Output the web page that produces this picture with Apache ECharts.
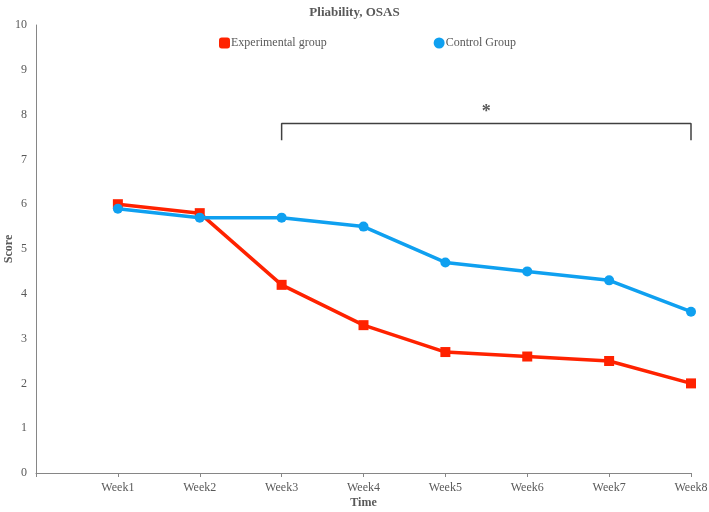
<!DOCTYPE html>
<html><head><meta charset="utf-8">
<script src="https://cdn.jsdelivr.net/npm/echarts@6/dist/echarts.min.js"></script>
<style>html,body{margin:0;padding:0;background:#fff}#c{width:709px;height:512px}</style>
</head><body><div id="c"></div>
<script>
const categories = ['', 'Week1', 'Week2', 'Week3', 'Week4', 'Week5', 'Week6', 'Week7', 'Week8'];
const experimental = [null, 6.0, 5.8, 4.2, 3.3, 2.7, 2.6, 2.5, 2.0];
const control = [null, 5.9, 5.7, 5.7, 5.5, 4.7, 4.5, 4.3, 3.6];
const bracket = [[3, 7.43], [3, 7.8], [8, 7.8], [8, 7.43]];
const starValue = 8.05;
const FONT = '"Liberation Serif", "Times New Roman", serif';
const chart = echarts.init(document.getElementById('c'));
chart.setOption({
  animation: false,
  textStyle: { fontFamily: FONT },
  title: { text: 'Pliability, OSAS', left: 'center', top: 1, textStyle: { fontFamily: FONT, fontSize: 13, fontWeight: 'bold', color: '#595959' } },
  legend: {
    top: 32, left: 214, itemGap: 107, itemWidth: 11, itemHeight: 11,
    textStyle: { fontFamily: FONT, fontSize: 12, color: '#595959', padding: [0,0,0,-4] },
    data: [ { name: 'Experimental group', icon: 'roundRect' }, { name: 'Control Group', icon: 'circle' } ]
  },
  grid: { left: 36, right: 18, top: 25, bottom: 39, containLabel: false, outerBoundsMode: 'none' },
  xAxis: {
    type: 'category', data: categories, boundaryGap: false,
    name: 'Time', nameLocation: 'middle', nameGap: 24, nameMoveOverlap: false,
    nameTextStyle: { fontFamily: FONT, fontSize: 12, fontWeight: 'bold', color: '#595959' },
    axisLine: { lineStyle: { color: '#868686', width: 1 } },
    axisTick: { lineStyle: { color: '#868686' }, length: 4, inside: false },
    axisLabel: { fontFamily: FONT, fontSize: 12, color: '#595959', margin: 9, interval: 0 },
    splitLine: { show: false }
  },
  yAxis: {
    type: 'value', min: 0, max: 10, interval: 1,
    name: 'Score', nameLocation: 'middle', nameGap: 21, nameMoveOverlap: false,
    nameTextStyle: { fontFamily: FONT, fontSize: 12, fontWeight: 'bold', color: '#595959' },
    axisLine: { show: true, lineStyle: { color: '#868686', width: 1 } },
    axisTick: { show: false },
    axisLabel: { fontFamily: FONT, fontSize: 12, color: '#595959', margin: 9 },
    splitLine: { show: false }
  },
  series: [
    { name: 'Experimental group', type: 'line', data: experimental, symbol: 'rect', symbolSize: 10,
      itemStyle: { color: '#FF2200' }, lineStyle: { color: '#FF2200', width: 3.5 }, z: 3 },
    { name: 'Control Group', type: 'line', data: control, symbol: 'circle', symbolSize: 10,
      itemStyle: { color: '#0FA0F0' }, lineStyle: { color: '#0FA0F0', width: 3.5 }, z: 4 },
    { name: 'bracket', type: 'line', data: bracket, symbol: 'none', silent: true,
      lineStyle: { color: '#404040', width: 1.5 }, z: 2 }
  ]
});
const pA = chart.convertToPixel({ gridIndex: 0 }, [bracket[1][0], starValue]);
const pB = chart.convertToPixel({ gridIndex: 0 }, [bracket[2][0], starValue]);
chart.setOption({
  graphic: [{ type: 'text', x: (pA[0] + pB[0]) / 2, y: pA[1], z: 10,
    style: { text: '*', fontFamily: FONT, fontSize: 18, fontWeight: 'bold', fill: '#595959', align: 'center', verticalAlign: 'middle' } }]
});
</script></body></html>
